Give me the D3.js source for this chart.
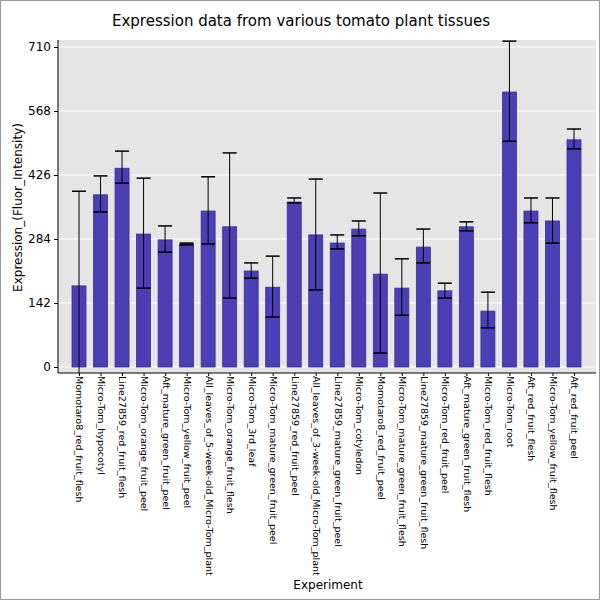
<!doctype html>
<html>
<head>
<meta charset="UTF-8">
<script src="https://d3js.org/d3.v7.min.js"></script>
<style>body{margin:0;background:#fff}</style>
</head>
<body>
<script>
var categories = ["Momotaro8_red_fruit_flesh","Micro-Tom_hypocotyl","Line27859_red_fruit_flesh","Micro-Tom_orange_fruit_peel","Aft_mature_green_fruit_peel","Micro-Tom_yellow_fruit_peel","All_leaves_of_5-week-old_Micro-Tom_plant","Micro-Tom_orange_fruit_flesh","Micro-Tom_3rd_leaf","Micro-Tom_mature_green_fruit_peel","Line27859_red_fruit_peel","All_leaves_of_3-week-old_Micro-Tom_plant","Line27859_mature_green_fruit_peel","Micro-Tom_cotyledon","Momotaro8_red_fruit_peel","Micro-Tom_mature_green_fruit_flesh","Line27859_mature_green_fruit_flesh","Micro-Tom_red_fruit_peel","Aft_mature_green_fruit_flesh","Micro-Tom_red_fruit_flesh","Micro-Tom_root","Aft_red_fruit_flesh","Micro-Tom_yellow_fruit_flesh","Aft_red_fruit_peel"];
var values = [180,382,441,295,282,273,346,311,213,177,366,293,275,306,206,175,266,169,311,124,610,346,324,504];
var errHigh = [390,424,479,419,313,275,422,475,231,246,375,417,293,324,386,240,306,186,322,166,723,375,375,528];
var errLow  = [-20,344,408,175,255,271,273,153,197,111,364,171,262,291,31,115,231,153,302,87,501,320,275,484];
var yTicks = [0,142,284,426,568,710];

var W = 600, H = 600;
var svg = d3.select("body").append("svg").attr("width", W).attr("height", H);
svg.append("rect").attr("x",0.5).attr("y",0.5).attr("width",W-1).attr("height",H-1).attr("fill","#fff").attr("stroke","#999");

var pLeft = 58, pRight = 596, pTop = 40, pBottom = 373;
var y = d3.scaleLinear().domain([-13.3, 725.5]).range([pBottom, pTop]);
var x = d3.scalePoint().domain(categories).range([79, 574]);

svg.append("rect").attr("x",pLeft).attr("y",pTop).attr("width",pRight-pLeft).attr("height",pBottom-pTop).attr("fill","#e5e5e5");

svg.append("g").selectAll("line").data(yTicks).enter().append("line")
  .attr("x1",pLeft).attr("x2",pRight).attr("y1",d=>y(d)).attr("y2",d=>y(d))
  .attr("stroke","#fff").attr("stroke-width",1);

var g = svg.append("g");
g.selectAll("rect").data(values).enter().append("rect")
  .attr("x",(d,i)=>x(categories[i])-7).attr("width",14)
  .attr("y",d=>y(d)).attr("height",d=>y(0)-y(d))
  .attr("fill","#4c3fb5").attr("stroke","#3a2f99").attr("stroke-width",0.8);

svg.append("clipPath").attr("id","c").append("rect").attr("x",pLeft).attr("y",pTop).attr("width",pRight-pLeft).attr("height",pBottom-pTop);
var e = svg.append("g").attr("clip-path","url(#c)");
categories.forEach(function(c,i){
  var cx = x(c);
  e.append("line").attr("x1",cx).attr("x2",cx).attr("y1",y(errHigh[i])).attr("y2",y(errLow[i])).attr("stroke","#000");
  [errHigh[i],errLow[i]].forEach(function(v){
    e.append("line").attr("x1",cx-7).attr("x2",cx+7).attr("y1",y(v)).attr("y2",y(v)).attr("stroke","#000").attr("stroke-width",1.5);
  });
});

svg.append("line").attr("x1",pLeft).attr("x2",pLeft).attr("y1",pTop).attr("y2",pBottom).attr("stroke","#000");
svg.append("line").attr("x1",pLeft).attr("x2",pRight).attr("y1",pBottom).attr("y2",pBottom).attr("stroke","#000");

var ya = svg.append("g").attr("transform","translate("+pLeft+",0)")
  .call(d3.axisLeft(y).tickValues(yTicks).tickSize(4).tickPadding(3));
ya.select(".domain").remove();
ya.selectAll("text").attr("font-family","DejaVu Sans").attr("font-size",12).attr("fill","#000");

var xa = svg.append("g").attr("transform","translate(0,"+pBottom+")")
  .call(d3.axisBottom(x).tickSize(3).tickPadding(2));
xa.select(".domain").remove();
xa.selectAll("text").attr("font-family","DejaVu Sans").attr("font-size",9.5).attr("fill","#000")
  .attr("text-anchor","start").attr("dy","0.32em")
  .attr("transform","translate(0,3) rotate(90)").attr("x",0).attr("y",0);

svg.append("text").attr("x",301).attr("y",26).attr("text-anchor","middle")
  .attr("font-family","DejaVu Sans").attr("font-size",15).text("Expression data from various tomato plant tissues");
svg.append("text").attr("x",328).attr("y",589).attr("text-anchor","middle")
  .attr("font-family","DejaVu Sans").attr("font-size",12).text("Experiment");
svg.append("text").attr("transform","translate(22,"+((pTop+pBottom)/2+1)+") rotate(-90)").attr("text-anchor","middle")
  .attr("font-family","DejaVu Sans").attr("font-size",12).text("Expression_(Fluor_Intensity)");
</script>
</body>
</html>
